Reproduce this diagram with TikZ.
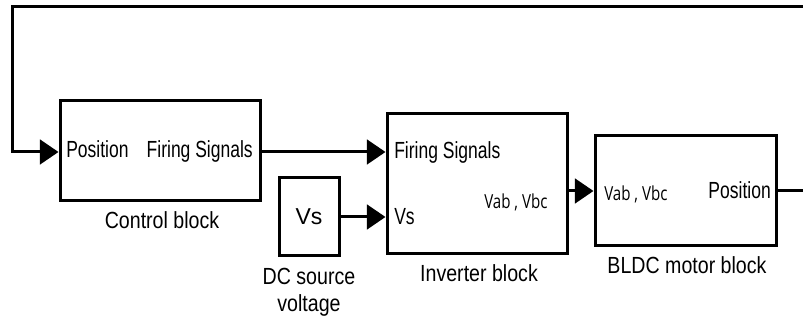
\documentclass[tikz,border=0pt]{standalone}
\usepackage{fontspec}
\setmainfont{Liberation Sans}[FakeStretch=0.75]
\newfontfamily\labfont{Liberation Sans}[FakeStretch=0.84]
\newfontfamily\wfont{Liberation Sans}
\newfontfamily\vfont{Open Sans}[FakeStretch=0.78]
\usetikzlibrary{arrows.meta}
\begin{document}
\begin{tikzpicture}[x=0.75pt,y=-0.75pt,
  blk/.style={draw,line width=2.25pt,inner sep=0pt},
  lbl/.style={inner sep=0pt,font=\fontsize{17.5pt}{20.25pt}\selectfont},
  blabel/.style={inner sep=0pt,font=\labfont\fontsize{17.5pt}{20.25pt}\selectfont},
  wide/.style={inner sep=0pt,font=\wfont\fontsize{17.25pt}{20.25pt}\selectfont},
  vlbl/.style={inner sep=0pt,font=\vfont\fontsize{14.5pt}{17pt}\selectfont},
  arr/.style={line width=2.25pt,-{Triangle[length=14pt,width=18.5pt]}}]
\useasboundingbox (0,0) rectangle (803,323);
% blocks
\node[blk,minimum width=200*0.75pt,minimum height=100*0.75pt] (ctrl) at (160,151) {};
\node[blk,minimum width=60*0.75pt,minimum height=78*0.75pt] (vs) at (309,217) {};
\node[blk,minimum width=180*0.75pt,minimum height=140*0.75pt] (inv) at (477,184) {};
\node[blk,minimum width=181*0.75pt,minimum height=110*0.75pt] (bldc) at (685.5,191) {};
% texts
\node[lbl,anchor=base west] (cpos) at (66,158) {Position};
\node[lbl,anchor=base east] (cfs) at (253,158) {Firing Signals};
\node[blabel,anchor=base] (clab) at (162,229) {Control block};
\node[wide,anchor=base] (vstext) at (309,225) {Vs};
\node[blabel,anchor=base,align=center] (dclab) at (309,312) {DC source\\voltage};
\node[lbl,anchor=base west] (ifs) at (394,159) {Firing Signals};
\node[lbl,anchor=base west] (ivs) at (394,225) {Vs};
\node[vlbl,anchor=base west] (ivab) at (484,209) {Vab , Vbc};
\node[blabel,anchor=base] (ilab) at (479,282) {Inverter block};
\node[vlbl,anchor=base west] (bvab) at (604,201) {Vab , Vbc};
\node[lbl,anchor=base east] (bpos) at (771,199) {Position};
\node[blabel,anchor=base] (blab) at (687,274) {BLDC motor block};
% connectors
\draw[arr] (ctrl.east |- 0,152) -- (inv.west |- 0,152);
\draw[arr] (vs.east) -- (inv.west |- vs.east);
\draw[arr] (inv.east |- bldc.west) -- (bldc.west);
\draw[arr] (bldc.east) -- (810,191) |- (12,7) |- (ctrl.west |- 0,152);
\end{tikzpicture}
\end{document}
